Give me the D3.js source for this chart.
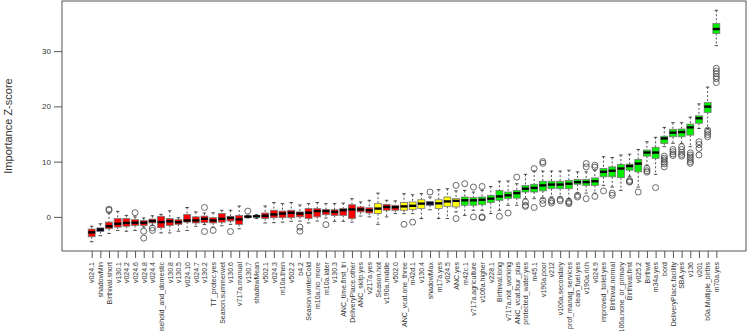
<!DOCTYPE html>
<html>
<head>
<meta charset="utf-8">
<script src="https://cdn.jsdelivr.net/npm/d3@7"></script>
<style>
	body { margin: 0; background: #fff; }
	svg { font-family: "Liberation Sans", Arial, sans-serif; }
</style>
</head>
<body>
<svg id="chart" width="750" height="331"></svg>
<script>
// attribute names, in plot order
var labels = ["v024.1","shadowMin","Birthival.short","v130.1","v024.2","v024.6","v024.8","v024.4",
	"household_and_domestic","v130.8","v130.5","v024.10","v024.7","v130.2","TT_protec.yes","Season.summerwet",
	"v130.6","v717a.manual","v130.7","shadowMean","v502.1","v024.3","m10a.then","v502.2","b4.2",
	"Season.winterCold","m10a.no_more","m10a.later","v130.3","ANC_time.first_tri","DeliveryPlace.other",
	"ANC_skilp.yes","v217a.yes","Season.hot","v190a.middle","v502.0","ANC_vcat.one_three","m42d.1","v130.4",
	"shadowMax","m17a.yes","v024.5","ANC.yes","m42c.1","v717a.agriculture","v106a.higher","v228.1",
	"Birthival.long","v717a.not_working","ANC_vcat.four_plus","protected_water.yes","m45.1","v190a.poor",
	"v212","v106a.secondary","prof_manag_services","clean_fuel.yes","v190a.rich","v024.9",
	"improved_toilet.yes","Birthival.normal","v106a.none_or_primary","Birthival.first","v025.2","Birthwt",
	"m34a.yes","bord","DeliveryPlace.facility","SBA.yes","v136","v201","b0a.Multiple_births","m70a.yes"];

// R = rejected, S = shadow, T = tentative, C = confirmed
var decisions = ["R","S","R","R","R","R","R","R","R","R","R","R","R","R","R","R","R","R","R","S",
	"R","R","R","R","R","R","R","R","R","R","R","R","R","T","R","R","T","T","T","S","T","T","T",
	"C","C","C","C","C","C","C","C","C","C","C","C","C","C","C","C","C","C","C","C","C","C","C",
	"C","C","C","C","C","C","C"];

var medians = [-2.8,-2.3,-1.7,-1.25,-1.1,-1.05,-1.05,-0.75,-0.95,-0.8,-0.95,-0.65,-0.65,-0.35,-0.65,-0.35,
	-0.2,-0.45,0.05,0.1,0.2,0.45,0.6,0.75,0.6,0.75,1.05,1.05,0.9,1.2,1.35,1.35,1.2,1.5,1.8,1.75,1.9,2.0,2.4,
	2.45,2.45,2.8,2.9,3.0,3.0,3.1,3.3,3.7,3.9,4.3,5.1,5.25,5.7,5.85,5.85,6.0,6.3,6.3,6.45,8.15,8.35,8.75,
	9.2,9.65,11.65,11.65,14.2,15.25,15.35,16.2,17.85,19.95,34.0];
var q1s = [-3.6,-2.65,-2.15,-1.85,-1.7,-1.55,-1.55,-1.1,-1.97,-1.55,-1.35,-0.95,-1.1,-1.05,-1.1,-0.95,
	-0.75,-1.35,-0.1,0.0,-0.3,-0.15,-0.15,-0.15,0.0,-0.3,0.0,0.4,0.27,0.27,-0.3,0.9,0.7,0.6,1.2,1.2,1.2,1.3,
	1.5,2.1,1.5,1.9,1.8,2.1,2.1,2.2,2.6,3.0,3.3,3.4,4.5,4.5,4.7,5.1,5.1,5.1,5.9,5.7,5.7,7.25,7.25,7.1,8.45,
	8.15,11.0,10.6,13.3,14.5,14.5,14.8,16.95,18.9,33.2];
var q3s = [-2.2,-2.0,-0.95,-0.3,-0.3,-0.5,-0.65,-0.4,0.1,-0.3,-0.5,0.45,0.0,0.15,-0.15,0.6,0.1,0.27,0.15,
	0.2,0.7,1.2,1.05,1.2,0.9,1.5,1.5,1.35,1.3,1.5,2.2,1.8,1.65,2.4,2.27,2.1,2.6,2.7,3.1,2.8,3.1,3.6,3.3,
	3.6,3.5,3.6,3.9,4.8,4.5,4.8,5.7,5.9,6.45,6.45,6.45,6.6,6.8,6.8,7.05,8.75,9.05,9.5,9.55,10.4,12.1,12.6,
	14.6,15.85,15.9,16.8,18.3,20.7,35.0];
var whiskLo = [-4.5,-3.4,-3.0,-2.45,-2.6,-2.45,-1.85,-1.55,-2.9,-2.9,-2.6,-2.45,-1.7,-1.4,-1.85,-1.6,
	-1.35,-2.15,-0.2,-0.3,-1.1,-1.05,-0.95,-0.8,-0.75,-1.1,-0.75,-0.2,-0.8,-0.8,-0.95,0.15,0.0,-1.35,0.0,
	0.6,0.6,0.6,-0.3,1.3,-0.3,-0.3,0.9,0.27,1.2,1.2,0.6,1.2,2.1,2.1,3.3,3.3,3.3,3.6,3.6,3.3,4.3,4.3,4.3,
	5.7,5.4,4.8,7.35,5.4,9.35,7.7,12.7,13.3,13.3,12.7,16.0,16.0,31.0];
var whiskHi = [-1.7,-1.25,0.7,1.0,0.27,0.0,-0.2,0.2,0.45,1.1,-0.15,1.7,0.9,0.7,0.75,1.2,1.2,1.97,0.3,
	0.4,1.97,2.6,2.4,2.6,2.15,2.4,2.6,2.4,2.4,2.5,3.3,2.7,3.0,4.3,3.0,2.9,4.2,4.0,4.2,3.6,4.95,5.1,4.7,
	4.8,4.5,4.8,5.5,6.45,6.5,6.0,7.7,8.3,8.3,8.3,8.3,8.45,8.15,8.15,8.45,10.9,10.75,11.2,11.35,12.2,13.6,
	14.4,16.2,17.05,17.05,18.05,20.45,23.5,37.4];
var outliers = [[],[],[1.4,1.2],[],[],[0.75],[-2.6,-3.85],[-2.0,-2.45],[],[],[],[],[],[1.7,-2.65],
	[-2.45],[],[-2.65],[],[1.05],[],[],[],[],[],[-1.85,-2.6],[],[],[-1.4],[],[],[],[],[],[],[],[],
	[-1.35],[-0.95],[],[4.5],[],[],[5.7,-0.3],[6.0],[5.4,0.0],[5.5,0.0,-0.15],[],[0.1],[0.7],[7.2],
	[2.7,2.1,1.9],[8.75,1.7],[10.0,9.7,3.0,2.4],[3.0,2.8,2.5],[3.2,2.9],[2.8,2.6,2.4],[3.9,3.6],
	[9.65,9.05,3.3],[9.35,9.0,3.7],[4.7],[4.3,3.9],[],[6.6,6.4,6.3],[4.5],[8.75,8.35,8.1],[5.3],
	[11.0,10.6,10.3,9.9,9.6,9.05],[12.2,11.8,11.4,11.1],[12.7,12.2,11.7,11.3,11.0],[11.6,11.2,10.8,10.4,10.0,9.7],
	[13.6,13.1,12.4,11.2],[15.7,15.3,14.9,14.5],[26.9,26.4,25.9,25.4,25.0,24.3]];
var yTicks = [0, 10, 20, 30];

var decisionColors = { R: "#ff0000", S: "#1e1ea0", T: "#ffff00", C: "#00ee00" };

var svg = d3.select("#chart");
var plot = { left: 62, right: 746, top: 1, bottom: 251 };
var n = labels.length;

var boxes = labels.map(function(l, i) {
	return { name: l, idx: i + 1, dec: decisions[i], q1: q1s[i], med: medians[i], q3: q3s[i],
		lo: whiskLo[i], hi: whiskHi[i], out: outliers[i] };
});

// R style 4% axis extension
var xPad = 0.04 * n;
var x = d3.scaleLinear().domain([0.5 - xPad, n + 0.5 + xPad]).range([plot.left, plot.right]);
var allVals = d3.merge([whiskLo, whiskHi, d3.merge(outliers)]);
var yMin = d3.min(allVals), yMax = d3.max(allVals);
var yPad = 0.04 * (yMax - yMin);
var y = d3.scaleLinear().domain([yMin - yPad, yMax + yPad]).range([plot.bottom, plot.top]);

var bw = (x(2) - x(1)) * 0.8;

var g = svg.append("g");
var box = g.selectAll(".box").data(boxes).enter().append("g").attr("class", "box");

// whiskers
box.append("line")
	.attr("x1", function(d){ return x(d.idx); }).attr("x2", function(d){ return x(d.idx); })
	.attr("y1", function(d){ return y(d.hi); }).attr("y2", function(d){ return y(d.q3); })
	.attr("stroke", "#222").attr("stroke-dasharray", "2,2").attr("stroke-width", 0.8);
box.append("line")
	.attr("x1", function(d){ return x(d.idx); }).attr("x2", function(d){ return x(d.idx); })
	.attr("y1", function(d){ return y(d.q1); }).attr("y2", function(d){ return y(d.lo); })
	.attr("stroke", "#222").attr("stroke-dasharray", "2,2").attr("stroke-width", 0.8);
// staples
box.selectAll(".staple").data(function(d){ return [d.lo, d.hi].map(function(v){ return {v: v, i: d.idx}; }); })
	.enter().append("line")
	.attr("x1", function(d){ return x(d.i) - bw / 4; }).attr("x2", function(d){ return x(d.i) + bw / 4; })
	.attr("y1", function(d){ return y(d.v); }).attr("y2", function(d){ return y(d.v); })
	.attr("stroke", "#222").attr("stroke-width", 0.8);

// box body
box.append("rect")
	.attr("x", function(d){ return x(d.idx) - bw / 2; })
	.attr("width", bw)
	.attr("y", function(d){ return y(d.q3); })
	.attr("height", function(d){ return Math.max(0.5, y(d.q1) - y(d.q3)); })
	.attr("fill", function(d){ return decisionColors[d.dec]; })
	.attr("stroke", "#777").attr("stroke-width", 0.8);

// median
box.append("line")
	.attr("x1", function(d){ return x(d.idx) - bw / 2; }).attr("x2", function(d){ return x(d.idx) + bw / 2; })
	.attr("y1", function(d){ return y(d.med); }).attr("y2", function(d){ return y(d.med); })
	.attr("stroke", "#000").attr("stroke-width", 2.4);

// outliers
box.selectAll(".out").data(function(d){ return d.out.map(function(v){ return {v: v, i: d.idx}; }); })
	.enter().append("circle")
	.attr("cx", function(d){ return x(d.i); }).attr("cy", function(d){ return y(d.v); })
	.attr("r", 3).attr("fill", "none").attr("stroke", "#444").attr("stroke-width", 0.8);

// frame
svg.append("rect")
	.attr("x", plot.left).attr("y", plot.top)
	.attr("width", plot.right - plot.left).attr("height", plot.bottom - plot.top)
	.attr("fill", "none").attr("stroke", "#555").attr("stroke-width", 1);

// y axis
var yAxis = svg.append("g").attr("transform", "translate(" + plot.left + ",0)")
	.call(d3.axisLeft(y).tickValues(yTicks).tickSize(8).tickPadding(3));
yAxis.select(".domain").remove();
yAxis.selectAll("line").attr("stroke", "#555");
yAxis.selectAll("text").attr("font-size", 8).attr("fill", "#333")
	.attr("font-family", "Liberation Sans, Arial, sans-serif");

// x axis
var xAxis = svg.append("g").attr("transform", "translate(0," + plot.bottom + ")")
	.call(d3.axisBottom(x).tickValues(d3.range(1, n + 1)).tickSize(7)
		.tickFormat(function(d){ return labels[d - 1]; }));
xAxis.select(".domain").remove();
xAxis.selectAll("line").attr("stroke", "#555");
xAxis.selectAll("text")
	.attr("font-size", 7).attr("fill", "#333")
	.attr("font-family", "Liberation Sans, Arial, sans-serif")
	.attr("transform", "rotate(-90)")
	.attr("text-anchor", "end")
	.attr("x", -11).attr("y", 0).attr("dy", "0.33em");

// y title
svg.append("text")
	.attr("transform", "translate(12," + ((plot.top + plot.bottom) / 2) + ") rotate(-90)")
	.attr("text-anchor", "middle")
	.attr("font-size", 11).attr("fill", "#333")
	.text("Importance Z-score");
</script>
</body>
</html>
